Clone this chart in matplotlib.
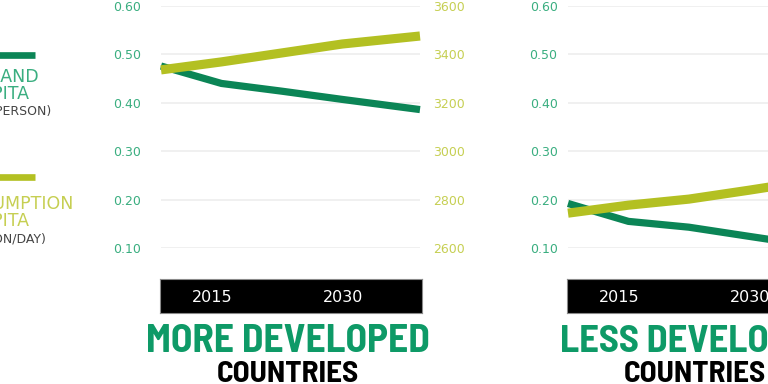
import matplotlib
matplotlib.use("Agg")
import matplotlib.pyplot as plt
from matplotlib import font_manager
from matplotlib.lines import Line2D
from matplotlib.transforms import blended_transform_factory

years = [2009, 2016, 2023, 2030, 2039]
more_land = [0.476, 0.440, 0.424, 0.407, 0.386]
more_kcal = [3336, 3369, 3406, 3443, 3476]
less_land = [0.192, 0.155, 0.143, 0.124, 0.100]
less_kcal = [2744, 2777, 2802, 2839, 2889]
land_ticks = [0.10, 0.20, 0.30, 0.40, 0.50, 0.60]
kcal_ticks = [2600, 2800, 3000, 3200, 3400, 3600]
bar_years = [2015, 2030]

GREEN = "#0b8556"
LIME = "#b3c022"
TICK_GREEN = "#3aae80"
TICK_LIME = "#c6cf52"
TITLE_GREEN = "#0e9a67"

W, H = 768, 384


def pick_font(candidates):
    for name in candidates:
        try:
            font_manager.findfont(font_manager.FontProperties(family=name, weight="bold"),
                                  fallback_to_default=False)
            return name
        except Exception:
            pass
    return "DejaVu Sans"


TITLE_FONT = pick_font(["Barlow Semi Condensed", "Roboto Condensed", "Fira Sans Condensed",
                        "Liberation Sans Narrow"])


def box(x, y, w, h):
    return [x / W, 1 - (y + h) / H, w / W, h / H]


fig = plt.figure(figsize=(W / 100, H / 100), dpi=100)
fig.patch.set_facecolor("white")
renderer = fig.canvas.get_renderer()


def fitted_text(x, y, s, width_px, color):
    t = fig.text(x, y, s, ha="center", va="baseline", color=color, fontsize=26,
                 fontweight="bold", family=TITLE_FONT)
    w = t.get_window_extent(renderer).width
    t.set_fontsize(26 * width_px / w)
    return t


def panel(x0, land, kcal, title, title_w, left_pad):
    ax = fig.add_axes(box(x0, 6, 259, 242))
    ax.set_xlim(years[0], years[-1])
    ax.set_ylim(land_ticks[0], land_ticks[-1])
    ax.set_yticks(land_ticks)
    ax.set_yticklabels([f"{t:.2f}" for t in land_ticks])
    ax.set_xticks([])
    ax.grid(axis="y", color="#eeeeee", lw=1.2)
    ax.set_axisbelow(True)
    for s in ax.spines.values():
        s.set_visible(False)
    ax.tick_params(axis="y", length=0, pad=left_pad, labelsize=9, labelcolor=TICK_GREEN)
    ax.plot(years, land, color=GREEN, lw=5.2, solid_capstyle="butt", clip_on=False)

    ax2 = ax.twinx()
    ax2.set_ylim(kcal_ticks[0], kcal_ticks[-1])
    ax2.set_yticks(kcal_ticks)
    ax2.set_yticklabels([str(t) for t in kcal_ticks])
    for s in ax2.spines.values():
        s.set_visible(False)
    ax2.tick_params(axis="y", length=0, pad=9.5, labelsize=9, labelcolor=TICK_LIME)
    ax2.plot(years, kcal, color=LIME, lw=6.6, solid_capstyle="butt", clip_on=False)

    bar = fig.add_axes(box(x0 - 1, 279, 262, 34))
    bar.set_facecolor("black")
    bar.set_xlim(years[0], years[-1])
    bar.set_xticks([])
    bar.set_yticks([])
    for s in bar.spines.values():
        s.set_color("#8a8a8a")
        s.set_linewidth(0.8)
    tr = blended_transform_factory(bar.transData, bar.transAxes)
    for yr in bar_years:
        bar.text(yr, 0.47, str(yr), transform=tr, ha="center", va="center",
                 color="white", fontsize=11.5)

    cx = (x0 + 127) / W
    fitted_text(cx, 1 - 352 / H, title, title_w, TITLE_GREEN)
    fitted_text(cx, 1 - 382 / H, "COUNTRIES", 143, "black")


panel(161, more_land, more_kcal, "MORE DEVELOPED", 283, 14.5)
panel(568, less_land, less_kcal, "LESS DEVELOPED", 270, 7.5)

# legend (cut off at the left edge of the picture)
fig.add_artist(Line2D([-0.05, 35 / W], [1 - 55 / H] * 2, color=GREEN, lw=4.8,
                      transform=fig.transFigure, solid_capstyle="butt"))
fig.add_artist(Line2D([-0.05, 35 / W], [1 - 177 / H] * 2, color=LIME, lw=4.8,
                      transform=fig.transFigure, solid_capstyle="butt"))

legend_lines = [
    ("ARABLE LAND", 39, 82, TICK_GREEN, 12.5),
    ("PER CAPITA", 29, 99, TICK_GREEN, 12.5),
    ("(HECTARES/PERSON)", 52, 115, "#444444", 9),
    ("FOOD CONSUMPTION", 73, 209, TICK_LIME, 12.5),
    ("PER CAPITA", 29, 226, TICK_LIME, 12.5),
    ("(KCAL/PERSON/DAY)", 47, 243, "#444444", 9),
]
for txt, xr, yb, col, fs in legend_lines:
    fig.text(xr / W, 1 - yb / H, txt, ha="right", va="baseline", color=col, fontsize=fs)

fig.savefig("out.png", dpi=100)
